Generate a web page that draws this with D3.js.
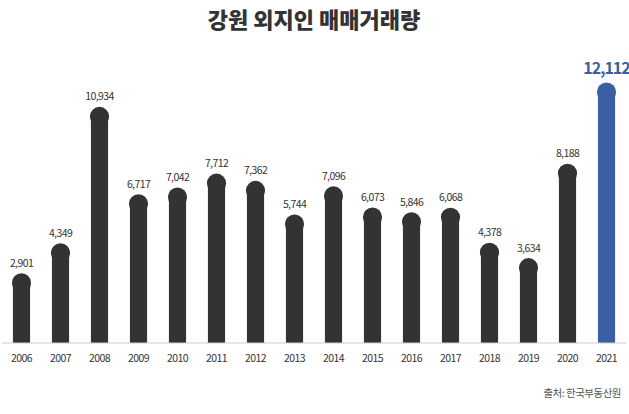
<!DOCTYPE html><html><head><meta charset="utf-8">
<script src="https://cdn.jsdelivr.net/npm/d3@7"></script>
<style>body{margin:0;background:#fff}</style></head><body><svg id="c" width="629" height="414"></svg>
<script>
const years=["2006","2007","2008","2009","2010","2011","2012","2013","2014","2015","2016","2017","2018","2019","2020","2021"];
const values=[2901,4349,10934,6717,7042,7712,7362,5744,7096,6073,5846,6068,4378,3634,8188,12112];
const title="강원 외지인 매매거래량";
const source="출처: 한국부동산원";
const svg=d3.select("#c");
const x=d3.scaleBand().domain(years).range([2,626]).paddingInner(0.56).paddingOuter(0.28);
const y=d3.scaleLinear().domain([0,12112]).range([343,92]);
const font="'Noto Sans CJK KR','Noto Sans',sans-serif";
svg.append("text").attr("x",314).attr("y",28).attr("text-anchor","middle").attr("font-family",font).attr("font-weight",900).attr("font-size",22).attr("fill","#333").text(title);
const col=(i)=>i===years.length-1?"#3a5fa3":"#333";
const g=svg.append("g");
years.forEach((yr,i)=>{
 const cx=x(yr)+x.bandwidth()/2, w=x.bandwidth();
 g.append("rect").attr("x",x(yr)).attr("width",w).attr("y",y(values[i])+3).attr("height",343-y(values[i])-3).attr("fill",col(i));
 g.append("circle").attr("cx",cx).attr("cy",y(values[i])).attr("r",w/2+1).attr("fill",col(i));
 const last=i===years.length-1;
 g.append("text").attr("x",cx).attr("y",y(values[i])-(last?18:16)).attr("text-anchor","middle").attr("font-family",font)
  .attr("letter-spacing",last?-1:-0.6)
  .attr("font-size",last?16:10.5).attr("font-weight",last?700:400).attr("fill",last?"#3a5fa3":"#333").text(d3.format(",")(values[i]));
});
const ax=svg.append("g").attr("transform","translate(0,343)").call(d3.axisBottom(x).tickSize(0).tickPadding(12));
ax.select(".domain").attr("stroke","#ccc").attr("d","M2,0H626");
ax.selectAll("text").attr("font-family",font).attr("font-size",10.5).attr("letter-spacing",-0.6).attr("fill","#333");
svg.append("text").attr("x",621).attr("y",397).attr("text-anchor","end").attr("font-family",font).attr("font-size",10.5).attr("letter-spacing",-0.5).attr("fill","#555").text(source);
</script></body></html>
